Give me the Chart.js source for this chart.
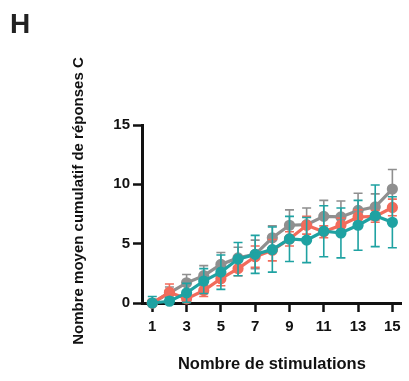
<!DOCTYPE html>
<html>
<head>
<meta charset="utf-8">
<script src="https://cdn.jsdelivr.net/npm/chart.js@4/dist/chart.umd.min.js"></script>
<style>
  html, body { margin: 0; padding: 0; background: #fff; }
  #wrap { position: relative; width: 409px; height: 381px; overflow: hidden; }
  #panel { position: absolute; left: 10px; top: 10px; font: bold 28px/1 "Liberation Sans", Arial, sans-serif; color: #222; }
  canvas { position: absolute; left: 0; top: 0; }
</style>
</head>
<body>
<div id="wrap">
  <canvas id="chart" width="409" height="381"></canvas>
  <div id="panel">H</div>
</div>
<script>
// Stimulation number (x) and tick labels
const stimulations = [1, 2, 3, 4, 5, 6, 7, 8, 9, 10, 11, 12, 13, 14, 15];
const xTicks = [1, 3, 5, 7, 9, 11, 13, 15];
const yTicks = [0, 5, 10, 15];

// Mean cumulative number of C responses, with error (±)
const grayMean = [0, 0.85, 1.7, 2.3, 3.25, 3.8, 4.1, 5.5, 6.55, 6.6, 7.3, 7.25, 7.8, 8.1, 9.6];
const grayErr  = [0.3, 0.5, 0.7, 0.85, 1.0, 0.9, 1.2, 1.0, 1.3, 1.4, 1.35, 1.35, 1.45, 1.1, 1.65];
const redMean  = [0, 0.9, 0.35, 1.05, 2.05, 2.9, 3.9, 4.45, 5.4, 6.55, 6.0, 6.55, 7.25, 7.3, 8.05];
const redErr   = [0.2, 0.7, 0.3, 0.5, 0.6, 0.6, 0.9, 0.9, 0.6, 0.75, 0.5, 0.6, 0.6, 0.5, 0.7];
const tealMean = [0, 0.15, 0.85, 1.85, 2.6, 3.7, 4.1, 4.5, 5.4, 5.3, 6.05, 5.9, 6.55, 7.35, 6.8];
const tealErr  = [0.55, 0.3, 0.8, 1.05, 1.45, 1.4, 1.6, 1.9, 1.9, 1.9, 2.15, 2.1, 2.1, 2.6, 2.15];

const GRAY = '#8f8f8f';
const RED = '#f26b5b';
const TEAL = '#1fa2a2';

function series(label, mean, err, color) {
  return {
    label,
    data: stimulations.map((x, i) => ({ x, y: mean[i] })),
    errors: err,
    borderColor: color,
    backgroundColor: color,
    pointBackgroundColor: color,
    pointBorderColor: color,
    borderWidth: 3.2,
    pointRadius: 4,
    pointHoverRadius: 4,
    tension: 0,
    clip: false
  };
}

// Vertical error bars with caps, drawn just before each line
const errorBars = {
  id: 'errorBars',
  beforeDatasetDraw(chart, args) {
    const ds = chart.data.datasets[args.index];
    if (!ds.errors) return;
    const xs = chart.scales.x, ys = chart.scales.y, ctx = chart.ctx;
    ctx.save();
    ctx.strokeStyle = ds.borderColor;
    ctx.lineWidth = 1.6;
    ds.data.forEach((p, i) => {
      const e = ds.errors[i];
      const px = xs.getPixelForValue(p.x);
      const top = ys.getPixelForValue(p.y + e);
      const bot = ys.getPixelForValue(Math.max(0, p.y - e));
      ctx.beginPath();
      ctx.moveTo(px, top); ctx.lineTo(px, bot);
      ctx.moveTo(px - 4.5, top); ctx.lineTo(px + 4.5, top);
      ctx.moveTo(px - 4.5, bot); ctx.lineTo(px + 4.5, bot);
      ctx.stroke();
    });
    ctx.restore();
  }
};

// Axis titles
const axisTitles = {
  id: 'axisTitles',
  afterDraw(chart) {
    const ctx = chart.ctx;
    ctx.save();
    ctx.fillStyle = '#111';
    ctx.textAlign = 'center';
    ctx.textBaseline = 'middle';
    ctx.font = 'bold 16.5px "Liberation Sans", Arial, sans-serif';
    ctx.fillText('Nombre de stimulations', (chart.chartArea.left + chart.chartArea.right) / 2, 364);
    ctx.font = 'bold 15px "Liberation Sans", Arial, sans-serif';
    ctx.translate(79, 201);
    ctx.rotate(-Math.PI / 2);
    ctx.fillText('Nombre moyen cumulatif de réponses C', 0, 0);
    ctx.restore();
  }
};

const tickFont = { family: '"Liberation Sans", Arial, sans-serif', size: 15, weight: 'bold' };

new Chart(document.getElementById('chart'), {
  type: 'line',
  data: {
    // first dataset is painted last (on top)
    datasets: [
      series('Vert', tealMean, tealErr, TEAL),
      series('Rouge', redMean, redErr, RED),
      series('Gris', grayMean, grayErr, GRAY)
    ]
  },
  plugins: [errorBars, axisTitles],
  options: {
    responsive: false,
    animation: false,
    layout: { padding: { top: 125, right: 0, bottom: 0, left: 0 } },
    plugins: { legend: { display: false }, tooltip: { enabled: false } },
    scales: {
      x: {
        type: 'linear',
        min: 0.4,
        max: 15.55,
        afterFit(s) { s.height = 78; },
        afterBuildTicks(s) { s.ticks = xTicks.map(v => ({ value: v })); },
        ticks: { color: '#111', font: tickFont, padding: 6, autoSkip: false, maxRotation: 0 },
        grid: { drawOnChartArea: false, drawTicks: true, tickLength: 9, tickWidth: 2.5, tickColor: '#111' },
        border: { display: true, color: '#111', width: 3 }
      },
      y: {
        type: 'linear',
        min: 0,
        max: 15,
        afterFit(s) { s.width = 142; },
        afterBuildTicks(s) { s.ticks = yTicks.map(v => ({ value: v })); },
        ticks: { color: '#111', font: tickFont, padding: 3 },
        grid: { drawOnChartArea: false, drawTicks: true, tickLength: 9, tickWidth: 2.5, tickColor: '#111' },
        border: { display: true, color: '#111', width: 3 }
      }
    }
  }
});
</script>
</body>
</html>
